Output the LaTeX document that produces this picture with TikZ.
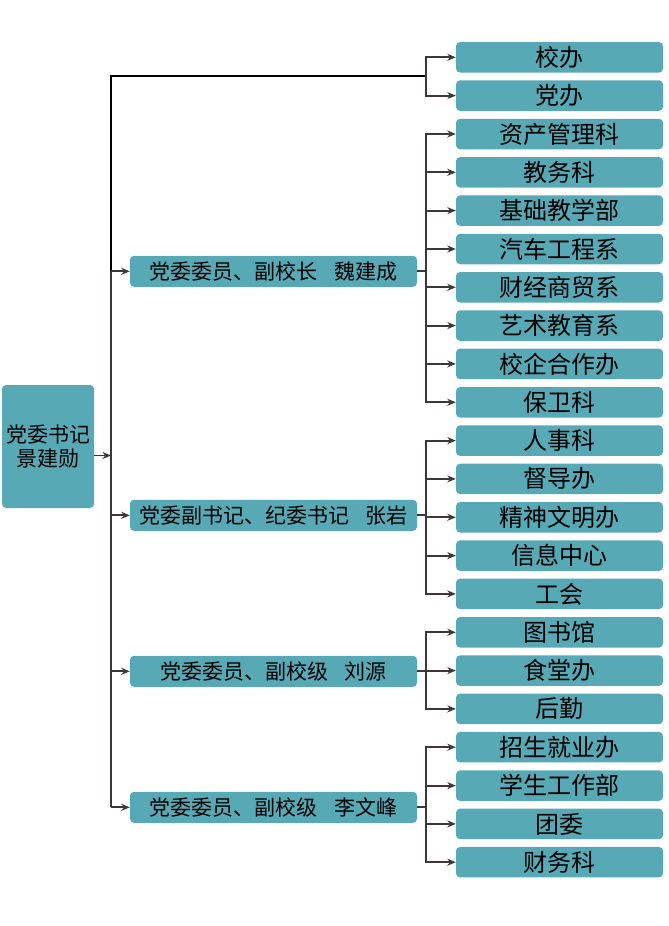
\documentclass[tikz,border=0pt]{standalone}
\usepackage{fontspec}
\newfontfamily\cjk{Noto Sans CJK SC}
\usetikzlibrary{arrows.meta}
\definecolor{boxteal}{RGB}{87,169,181}
\definecolor{linebrown}{RGB}{62,55,55}

\tikzset{
	leader/.style={fill=boxteal, rounded corners=4pt, inner sep=0pt, minimum width=92pt, minimum height=123pt, align=center, font=\cjk\fontsize{21}{23.5}\selectfont},
	deputy/.style={fill=boxteal, rounded corners=4pt, inner sep=0pt, minimum width=287pt, minimum height=31pt, font=\cjk\fontsize{21}{23}\selectfont},
	office/.style={fill=boxteal, rounded corners=4pt, inner sep=0pt, minimum width=207pt, minimum height=30.5pt, font=\cjk\fontsize{24}{26}\selectfont},
	conn/.style={linebrown, line width=1.8pt, -{Stealth[length=8.5pt,width=7pt]}},
	trunkline/.style={linebrown, line width=1.8pt},
	topline/.style={black, line width=2.2pt}
}

\begin{document}
\begin{tikzpicture}[x=1pt,y=-1pt]
			\useasboundingbox (0,0) rectangle (669,926);
			\node[leader] (sj) at (48,446.5) {党委书记\\景建勋};
			\node[deputy] (m1) at (273.5,271.3) {党委委员、副校长\hspace{0.8em}魏建成};
			\node[deputy] (m2) at (273.5,515.3) {党委副书记、纪委书记\hspace{0.8em}张岩};
			\node[deputy] (m3) at (273.5,671.3) {党委委员、副校级\hspace{0.8em}刘源};
			\node[deputy] (m4) at (273.5,807.3) {党委委员、副校级\hspace{0.8em}李文峰};
			\node[office] (r0) at (559.5,57.3) {校办};
			\node[office] (r1) at (559.5,95.6) {党办};
			\node[office] (r2) at (559.5,134.0) {资产管理科};
			\node[office] (r3) at (559.5,172.3) {教务科};
			\node[office] (r4) at (559.5,210.6) {基础教学部};
			\node[office] (r5) at (559.5,249.0) {汽车工程系};
			\node[office] (r6) at (559.5,287.3) {财经商贸系};
			\node[office] (r7) at (559.5,325.6) {艺术教育系};
			\node[office] (r8) at (559.5,363.9) {校企合作办};
			\node[office] (r9) at (559.5,402.3) {保卫科};
			\node[office] (r10) at (559.5,440.6) {人事科};
			\node[office] (r11) at (559.5,478.9) {督导办};
			\node[office] (r12) at (559.5,517.3) {精神文明办};
			\node[office] (r13) at (559.5,555.6) {信息中心};
			\node[office] (r14) at (559.5,593.9) {工会};
			\node[office] (r15) at (559.5,632.3) {图书馆};
			\node[office] (r16) at (559.5,670.6) {食堂办};
			\node[office] (r17) at (559.5,708.9) {后勤};
			\node[office] (r18) at (559.5,747.2) {招生就业办};
			\node[office] (r19) at (559.5,785.6) {学生工作部};
			\node[office] (r20) at (559.5,823.9) {团委};
			\node[office] (r21) at (559.5,862.2) {财务科};
			% trunk
			\coordinate (ttop) at (111,76);
			\coordinate (jtop) at (426,76);
			\draw[topline] (m1.west -| ttop) -- (ttop) -- (jtop);
			\draw[trunkline] (m1.west -| ttop) -- (m4.west -| ttop);
			\draw[conn] ([yshift=-9pt]sj.east) -- ([yshift=-9pt]sj.east -| ttop);
			\draw[conn] (m1.west -| ttop) -- (m1.west);
			\draw[conn] (m2.west -| ttop) -- (m2.west);
			\draw[conn] (m3.west -| ttop) -- (m3.west);
			\draw[conn] (m4.west -| ttop) -- (m4.west);
			% top offices
			\draw[conn] (jtop) |- (r0.west);
			\draw[conn] (jtop) |- (r1.west);
			% offices per deputy
			\draw[conn] (m1.east) -- ++(9,0) |- (r2.west);
			\draw[conn] (m1.east) -- ++(9,0) |- (r3.west);
			\draw[conn] (m1.east) -- ++(9,0) |- (r4.west);
			\draw[conn] (m1.east) -- ++(9,0) |- (r5.west);
			\draw[conn] (m1.east) -- ++(9,0) |- (r6.west);
			\draw[conn] (m1.east) -- ++(9,0) |- (r7.west);
			\draw[conn] (m1.east) -- ++(9,0) |- (r8.west);
			\draw[conn] (m1.east) -- ++(9,0) |- (r9.west);
			\draw[conn] (m2.east) -- ++(9,0) |- (r10.west);
			\draw[conn] (m2.east) -- ++(9,0) |- (r11.west);
			\draw[conn] (m2.east) -- ++(9,0) |- (r12.west);
			\draw[conn] (m2.east) -- ++(9,0) |- (r13.west);
			\draw[conn] (m2.east) -- ++(9,0) |- (r14.west);
			\draw[conn] (m3.east) -- ++(9,0) |- (r15.west);
			\draw[conn] (m3.east) -- ++(9,0) |- (r16.west);
			\draw[conn] (m3.east) -- ++(9,0) |- (r17.west);
			\draw[conn] (m4.east) -- ++(9,0) |- (r18.west);
			\draw[conn] (m4.east) -- ++(9,0) |- (r19.west);
			\draw[conn] (m4.east) -- ++(9,0) |- (r20.west);
			\draw[conn] (m4.east) -- ++(9,0) |- (r21.west);
\end{tikzpicture}
\end{document}
